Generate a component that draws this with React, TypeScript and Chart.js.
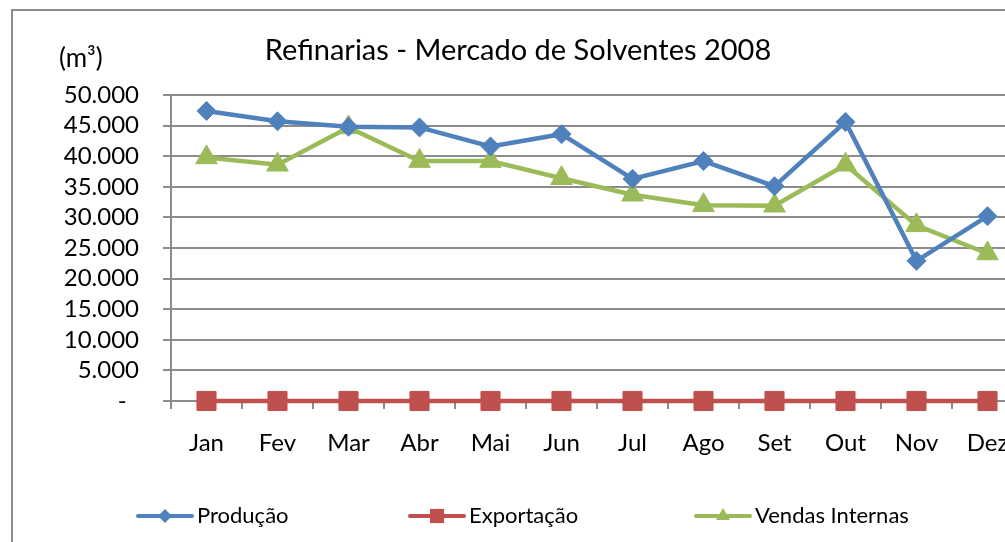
import React, { useEffect, useRef } from "react";
import { Chart, registerables } from "chart.js";

Chart.register(...registerables);

const months = ["Jan", "Fev", "Mar", "Abr", "Mai", "Jun", "Jul", "Ago", "Set", "Out", "Nov", "Dez"];
const producao = [47400, 45700, 44800, 44700, 41600, 43600, 36300, 39200, 35100, 45600, 22900, 30200];
const exportacao = [0, 0, 0, 0, 0, 0, 0, 0, 0, 0, 0, 0];
const vendasInternas = [39800, 38600, 44700, 39200, 39200, 36400, 33700, 32000, 31900, 38600, 28700, 24100];
const seriesNames = ["Produção", "Exportação", "Vendas Internas"];
const titleText = "Refinarias - Mercado de Solventes 2008";
const unitText = "(m³)";

const BLUE = "#4F81BD";
const RED = "#C0504D";
const GREEN = "#9BBB59";
const GRID = "#8c8c8c";
const FONT = "Lato, 'Open Sans', sans-serif";

function fmt(v: number): string {
  if (v === 0) return "-  ";
  return String(v).replace(/\B(?=(\d{3})+(?!\d))/g, ".");
}

function drawMarker(ctx: CanvasRenderingContext2D, style: string, x: number, y: number, r: number, color: string) {
  ctx.save();
  ctx.fillStyle = color;
  ctx.beginPath();
  if (style === "rectRot") {
    ctx.moveTo(x - r, y);
    ctx.lineTo(x, y - r);
    ctx.lineTo(x + r, y);
    ctx.lineTo(x, y + r);
  } else if (style === "rect") {
    const s = r * Math.SQRT1_2;
    ctx.rect(x - s, y - s, 2 * s, 2 * s);
  } else {
    const h = r * 0.866;
    ctx.moveTo(x, y - r);
    ctx.lineTo(x + h, y + r / 2);
    ctx.lineTo(x - h, y + r / 2);
  }
  ctx.closePath();
  ctx.fill();
  ctx.restore();
}

const decorPlugin = {
  id: "decor",
  afterDraw(chart: any) {
    const ctx = chart.ctx;
    ctx.save();
    ctx.fillStyle = "#000";
    ctx.textBaseline = "middle";
    ctx.textAlign = "center";
    ctx.font = `29px ${FONT}`;
    ctx.fillText(titleText, 518, 51);
    ctx.textAlign = "left";
    ctx.font = `26px ${FONT}`;
    ctx.fillText(unitText, 59, 59);

    const items = [
      { x: 138, color: BLUE, style: "rectRot", r: 7 },
      { x: 410, color: RED, style: "rect", r: 10 },
      { x: 696, color: GREEN, style: "triangle", r: 8 },
    ];
    const ly = 516;
    ctx.font = `22px ${FONT}`;
    items.forEach((it, i) => {
      ctx.strokeStyle = it.color;
      ctx.lineWidth = 4;
      ctx.lineCap = "round";
      ctx.beginPath();
      ctx.moveTo(it.x, ly);
      ctx.lineTo(it.x + 54, ly);
      ctx.stroke();
      drawMarker(ctx, it.style, it.x + 27, ly, it.r, it.color);
      ctx.fillStyle = "#000";
      ctx.textAlign = "left";
      ctx.fillText(seriesNames[i], it.x + 59, ly);
    });
    ctx.restore();
  },
};

export default function App() {
  const ref = useRef<HTMLCanvasElement | null>(null);
  useEffect(() => {
    if (!ref.current) return;
    const chart = new Chart(ref.current, {
      type: "line",
      data: {
        labels: months,
        datasets: [
          {
            label: seriesNames[0],
            data: producao,
            borderColor: BLUE,
            backgroundColor: BLUE,
            borderWidth: 4.5,
            pointStyle: "rectRot",
            pointRadius: 9.5,
            pointBorderWidth: 1,
            pointBorderColor: BLUE,
            pointBackgroundColor: BLUE,
            tension: 0,
            clip: false,
          },
          {
            label: seriesNames[1],
            data: exportacao,
            borderColor: RED,
            backgroundColor: RED,
            borderWidth: 4.5,
            pointStyle: "rect",
            pointRadius: 13.5,
            pointBorderWidth: 1,
            pointBorderColor: RED,
            pointBackgroundColor: RED,
            tension: 0,
            clip: false,
          },
          {
            label: seriesNames[2],
            data: vendasInternas,
            borderColor: GREEN,
            backgroundColor: GREEN,
            borderWidth: 4.5,
            pointStyle: "triangle",
            pointRadius: 12.5,
            pointBorderWidth: 1,
            pointBorderColor: GREEN,
            pointBackgroundColor: GREEN,
            tension: 0,
            clip: false,
          },
        ],
      },
      options: {
        responsive: false,
        animation: false,
        events: [],
        layout: { padding: { left: 0, right: 17, top: 95, bottom: 0 } },
        plugins: {
          legend: { display: false },
          title: { display: false },
          tooltip: { enabled: false },
        },
        scales: {
          x: {
            type: "category",
            offset: true,
            grid: {
              offset: true,
              drawOnChartArea: false,
              drawTicks: true,
              tickLength: 8,
              color: GRID,
              lineWidth: 2,
            },
            border: { display: true, color: GRID, width: 2 },
            ticks: {
              color: "#000",
              font: { family: FONT, size: 24 },
              padding: 20,
              maxRotation: 0,
              autoSkip: false,
            },
            afterFit: (s: any) => {
              s.height = 141;
            },
          },
          y: {
            min: 0,
            max: 50000,
            grid: {
              color: GRID,
              lineWidth: 2,
              tickLength: 8,
              drawTicks: true,
            },
            border: { display: true, color: GRID, width: 2 },
            ticks: {
              stepSize: 5000,
              autoSkip: false,
              color: "#000",
              font: { family: FONT, size: 24 },
              padding: 24,
              callback: (v: any) => fmt(Number(v)),
            },
            afterFit: (s: any) => {
              s.width = 171;
            },
          },
        },
      },
      plugins: [decorPlugin],
    });
    return () => chart.destroy();
  }, []);

  return (
    <div
      style={{
        position: "fixed",
        left: 0,
        top: 0,
        width: 1005,
        height: 542,
        overflow: "hidden",
        background: "#fff",
      }}
    >
      <div
        style={{
          position: "absolute",
          left: 11,
          top: 9,
          width: 1100,
          height: 600,
          border: "2px solid #8c8c8c",
          boxSizing: "border-box",
        }}
      />
      <canvas
        ref={ref}
        width={1040}
        height={542}
        style={{ position: "absolute", left: 0, top: 0, width: 1040, height: 542 }}
      />
    </div>
  );
}
